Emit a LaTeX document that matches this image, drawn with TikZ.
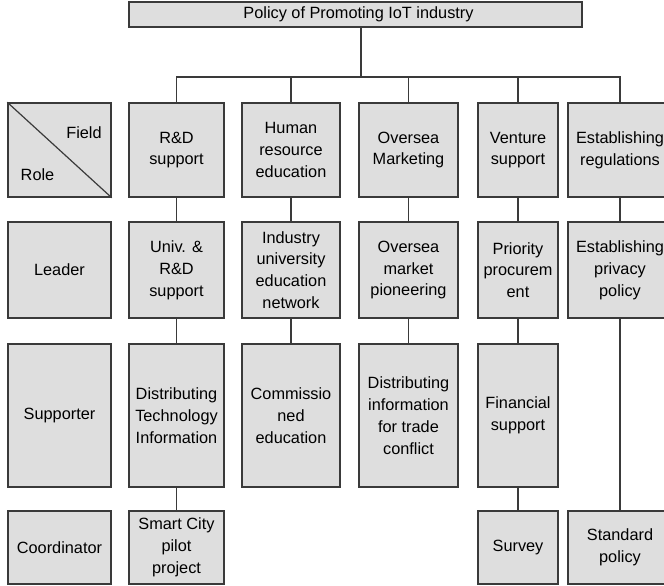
\documentclass[tikz,border=0pt]{standalone}
\usepackage{fontspec}
\setmainfont{Liberation Sans}
\definecolor{boxfill}{HTML}{DEDEDE}
\definecolor{boxline}{HTML}{3A3A3A}
\begin{document}
\begin{tikzpicture}[x=1pt,y=-1pt,
  cell/.style={draw=boxline, fill=boxfill, line width=1.5pt, inner sep=0pt,
    align=center, text=black, font=\fontsize{16.3}{21.8}\selectfont},
  link/.style={draw=boxline, line width=1.5pt}]
\useasboundingbox (0,0) rectangle (664,586);
\clip (0,0) rectangle (664,586);

% column centres and widths
\def\cA{59.5}  \def\wA{103}
\def\cB{176.5} \def\wB{95}
\def\cC{291}   \def\wC{98}
\def\cD{408.5} \def\wD{99}
\def\cE{518}   \def\wE{80}
\def\cF{620}   \def\wF{104}

% title
\node[cell, minimum width=453, minimum height=25] (top) at (355.5,14.5)
  {\hspace{6pt}Policy of Promoting IoT industry};

% row 1: fields
\node[cell, minimum width=\wA, minimum height=94] (role) at (\cA,150) {};
\node[cell, minimum width=\wB, minimum height=94] (f1) at (\cB,150) {R\&D\\support};
\node[cell, minimum width=\wC, minimum height=94] (f2) at (\cC,150) {Human\\resource\\education};
\node[cell, minimum width=\wD, minimum height=94] (f3) at (\cD,150) {Oversea\\Marketing};
\node[cell, minimum width=\wE, minimum height=94] (f4) at (\cE,150) {Venture\\support};
\node[cell, minimum width=\wF, minimum height=94] (f5) at (\cF,150) {Establishing\\regulations};
\draw[boxline, line width=1.2pt] (role.north west) -- (role.south east);
\node[font=\fontsize{16.3}{19}\selectfont] (fieldlbl) at (84,133) {Field};
\node[font=\fontsize{16.3}{19}\selectfont] (rolelbl) at (37.5,175) {Role};

% row 2: leaders
\node[cell, minimum width=\wA, minimum height=96] (l0) at (\cA,270) {Leader};
\node[cell, minimum width=\wB, minimum height=96] (l1) at (\cB,270) {Univ. \&\\R\&D\\support};
\node[cell, minimum width=\wC, minimum height=96] (l2) at (\cC,270) {Industry\\university\\education\\network};
\node[cell, minimum width=\wD, minimum height=96] (l3) at (\cD,270) {Oversea\\market\\pioneering};
\node[cell, minimum width=\wE, minimum height=96] (l4) at (\cE,270) {Priority\\procurem\\ent};
\node[cell, minimum width=\wF, minimum height=96] (l5) at (\cF,270) {Establishing\\privacy\\policy};

% row 3: supporters
\node[cell, minimum width=\wA, minimum height=143] (s0) at (\cA,415.5) {Supporter};
\node[cell, minimum width=\wB, minimum height=143] (s1) at (\cB,415.5) {Distributing\\Technology\\Information};
\node[cell, minimum width=\wC, minimum height=143] (s2) at (\cC,415.5) {Commissio\\ned\\education};
\node[cell, minimum width=\wD, minimum height=143] (s3) at (\cD,415.5) {Distributing\\information\\for trade\\conflict};
\node[cell, minimum width=\wE, minimum height=143] (s4) at (\cE,415.5) {Financial\\support};

% row 4: coordinators
\node[cell, minimum width=\wA, minimum height=73] (c0) at (\cA,547.5) {Coordinator};
\node[cell, minimum width=\wB, minimum height=73] (c1) at (\cB,547.5) {Smart City\\pilot\\project};
\node[cell, minimum width=\wE, minimum height=73] (c4) at (\cE,547.5) {Survey};
\node[cell, minimum width=\wF, minimum height=73] (c5) at (\cF,547.5) {Standard\\policy};

% distribution bus from the title
\coordinate (bus) at (0,77);
\draw[link] ([xshift=5.5pt]top.south) -- ([xshift=5.5pt]top.south |- bus);
\draw[link] (f1.north) -- (f1.north |- bus) -- (f5.north |- bus) -- (f5.north);
\foreach \f in {f2,f3,f4} \draw[link] (\f.north) -- (\f.north |- bus);

% vertical links within each field
\draw[link] (f1) -- (l1); \draw[link] (l1) -- (s1); \draw[link] (s1) -- (c1);
\draw[link] (f2) -- (l2); \draw[link] (l2) -- (s2);
\draw[link] (f3) -- (l3); \draw[link] (l3) -- (s3);
\draw[link] (f4) -- (l4); \draw[link] (l4) -- (s4); \draw[link] (s4) -- (c4);
\draw[link] (f5) -- (l5); \draw[link] (l5) -- (c5);
\end{tikzpicture}
\end{document}
